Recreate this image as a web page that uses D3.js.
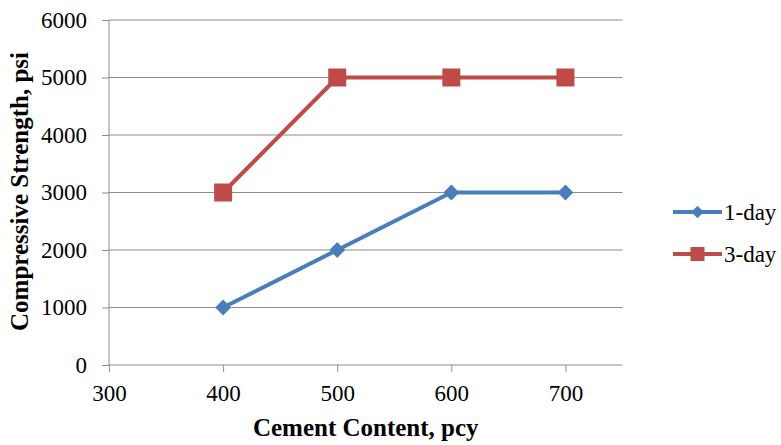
<!DOCTYPE html>
<html>
<head>
<meta charset="utf-8">
<script src="https://cdn.jsdelivr.net/npm/d3@7"></script>
<style>
  html, body { margin: 0; padding: 0; background: #fff; }
  svg { display: block; }
</style>
</head>
<body>
<svg id="chart" width="781" height="445" font-family="'Liberation Serif'"></svg>
<script>
// Cement content (pcy) and compressive strength (psi)
const cementContent = [400, 500, 600, 700];
const oneDay = [1000, 2000, 3000, 3000];
const threeDay = [3000, 5000, 5000, 5000];
const xTicks = [300, 400, 500, 600, 700];
const yTicks = [0, 1000, 2000, 3000, 4000, 5000, 6000];
const seriesNames = ["1-day", "3-day"];

const serif = "'Liberation Serif'";
const svg = d3.select("#chart");
const plotLeft = 109, plotRight = 622.5, plotTop = 20, plotBottom = 365;
const gridColor = "#8c8c8c";

const x = d3.scaleLinear().domain([300, 750]).range([plotLeft, plotRight]);
const y = d3.scaleLinear().domain([0, 6000]).range([plotBottom, plotTop]);

// Horizontal gridlines
svg.append("g")
  .selectAll("line")
  .data(yTicks.filter(d => d > 0))
  .join("line")
  .attr("x1", plotLeft).attr("x2", plotRight)
  .attr("y1", d => y(d)).attr("y2", d => y(d))
  .attr("stroke", gridColor).attr("stroke-width", 1);

// Y axis
const yAxis = svg.append("g")
  .attr("transform", `translate(${plotLeft},0)`)
  .call(d3.axisLeft(y).tickValues(yTicks).tickFormat(d3.format("d")).tickSize(7).tickPadding(15))
  .attr("font-family", null).attr("font-size", null);
yAxis.select(".domain").attr("stroke", gridColor).attr("d", `M0,${plotTop}V${plotBottom}`);
yAxis.selectAll(".tick line").attr("stroke", gridColor);
yAxis.selectAll(".tick text").style("font-size", "23px");

// X axis
const xAxis = svg.append("g")
  .attr("transform", `translate(0,${plotBottom})`)
  .call(d3.axisBottom(x).tickValues(xTicks).tickFormat(d3.format("d")).tickSize(7).tickPadding(13))
  .attr("font-family", null).attr("font-size", null);
xAxis.select(".domain").attr("stroke", gridColor).attr("d", `M${plotLeft},0H${plotRight}`);
xAxis.selectAll(".tick line").attr("stroke", gridColor);
xAxis.selectAll(".tick text").style("font-size", "23px");

// Axis titles
svg.append("text")
  .attr("x", (plotLeft + plotRight) / 2).attr("y", 436)
  .attr("text-anchor", "middle")
  .style("font-size", "25px").style("font-weight", "bold")
  .text("Cement Content, pcy");

svg.append("text")
  .attr("transform", `translate(28,191.5) rotate(-90)`)
  .attr("text-anchor", "middle")
  .style("font-size", "25px").style("font-weight", "bold")
  .text("Compressive Strength, psi");

const blue = "#4a7ebb", red = "#be4b48";
const line = d3.line().x(d => x(d[0])).y(d => y(d[1]));

// 1-day series
const s1 = cementContent.map((c, i) => [c, oneDay[i]]);
svg.append("path").datum(s1).attr("d", line)
  .attr("fill", "none").attr("stroke", blue).attr("stroke-width", 4).attr("stroke-linejoin", "round");
const diamond = d3.symbol().type(d3.symbolDiamond2).size(160);
svg.append("g").selectAll("path").data(s1).join("path")
  .attr("transform", d => `translate(${x(d[0])},${y(d[1])})`)
  .attr("d", diamond).attr("fill", blue);

// 3-day series
const s3 = cementContent.map((c, i) => [c, threeDay[i]]);
svg.append("path").datum(s3).attr("d", line)
  .attr("fill", "none").attr("stroke", red).attr("stroke-width", 4).attr("stroke-linejoin", "round");
svg.append("g").selectAll("rect").data(s3).join("rect")
  .attr("x", d => x(d[0]) - 9).attr("y", d => y(d[1]) - 9)
  .attr("width", 18).attr("height", 18).attr("fill", red);

// Legend
const legend = svg.append("g");
const legendY = [212, 254];
[blue, red].forEach((col, i) => {
  const g = legend.append("g").attr("transform", `translate(0,${legendY[i]})`);
  g.append("line").attr("x1", 673).attr("x2", 722).attr("y1", 0).attr("y2", 0)
    .attr("stroke", col).attr("stroke-width", 4);
  if (i === 0) {
    g.append("path").attr("transform", "translate(697.5,0)")
      .attr("d", d3.symbol().type(d3.symbolDiamond2).size(100)).attr("fill", col);
  } else {
    g.append("rect").attr("x", 690.5).attr("y", -7).attr("width", 14).attr("height", 14).attr("fill", col);
  }
  g.append("text").attr("x", 724).attr("y", 8).style("font-size", "23px")
    .text(seriesNames[i]);
});

// Serif face and black fill for every label
svg.selectAll("text").style("font-family", serif).attr("fill", "#000");
</script>
</body>
</html>
